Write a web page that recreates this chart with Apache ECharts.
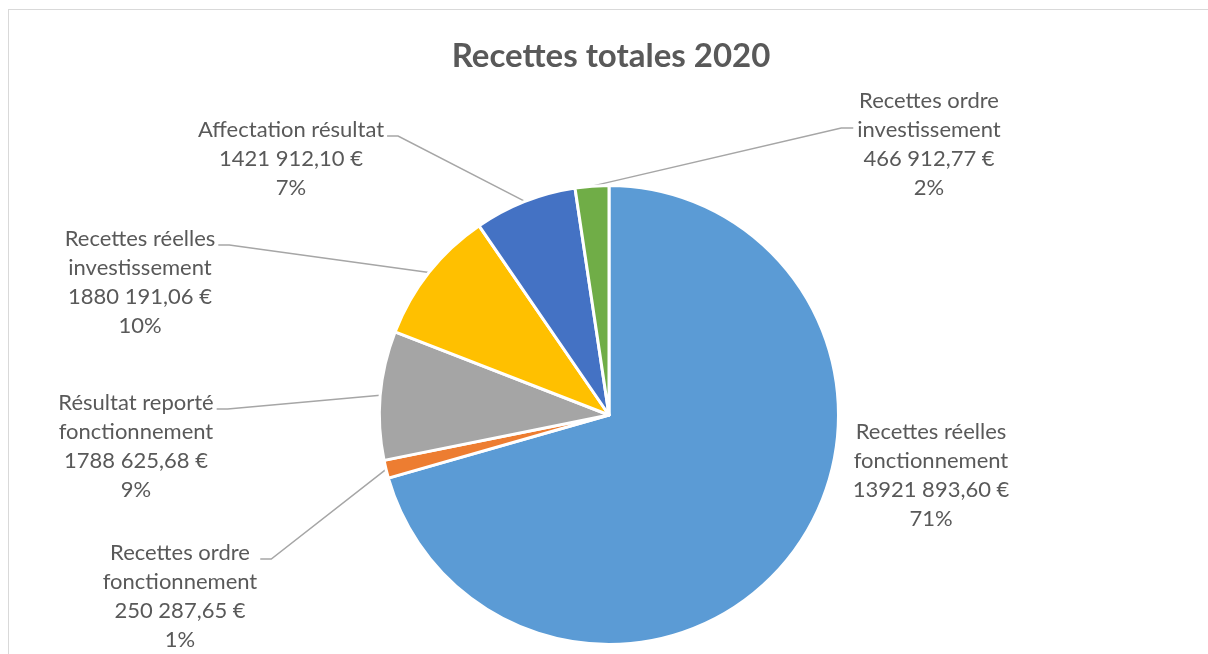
<!DOCTYPE html>
<html>
<head>
<meta charset="utf-8">
<script src="https://cdn.jsdelivr.net/npm/echarts@6/dist/echarts.min.js"></script>
<style>
html, body { margin: 0; padding: 0; background: #fff; overflow: hidden; }
#frame { position: absolute; left: 8px; top: 9px; width: 1400px; height: 900px; border: 1px solid #d9d9d9; pointer-events: none; }
#chart { position: absolute; left: 0; top: 0; width: 1208px; height: 654px; }
</style>
</head>
<body>
<div id="chart"></div>
<div id="frame"></div>
<script>
// ---- data ----
const titleText = 'Recettes totales 2020';
const categories = [
  'Recettes réelles\nfonctionnement',
  'Recettes ordre\nfonctionnement',
  'Résultat reporté\nfonctionnement',
  'Recettes réelles\ninvestissement',
  'Affectation résultat',
  'Recettes ordre\ninvestissement'
];
const values = [13921893.60, 250287.65, 1788625.68, 1880191.06, 1421912.10, 466912.77];
const colors = ['#5B9BD5', '#ED7D31', '#A5A5A5', '#FFC000', '#4472C4', '#70AD47'];

// ---- label placement (centre x, first-line y) ----
const labelAnchors = [[931, 432], [180, 553], [136, 403], [140, 239], [291, 130], [929, 101]];
const LINE_H = 29;
const FONT = 'Lato, "Open Sans", sans-serif';

function fmtEuro(v) {
  const s = v.toFixed(2).split('.');
  const n = parseInt(s[0], 10);
  const intStr = n >= 1000 ? Math.floor(n / 1000) + ' ' + String(n % 1000).padStart(3, '0') : String(n);
  return intStr + ',' + s[1] + ' €';
}

const chart = echarts.init(document.getElementById('chart'), null, { renderer: 'canvas' });

const seriesData = categories.map((c, i) => {
  const d = { name: c, value: values[i], itemStyle: { color: colors[i] } };
  if (i === 0) d.labelLine = { show: false };
  return d;
});

chart.setOption({
  animation: false,
  backgroundColor: 'transparent',
  title: {
    text: titleText,
    left: 606,
    top: 35,
    padding: 5,
    textAlign: 'center',
    textStyle: { fontFamily: FONT, fontSize: 33, fontWeight: 'bold', color: '#595959' }
  },
  series: [{
    type: 'pie',
    center: [609, 415],
    radius: 229.5,
    startAngle: 90,
    clockwise: true,
    avoidLabelOverlap: false,
    itemStyle: { borderColor: '#ffffff', borderWidth: 3 },
    label: {
      show: true,
      position: 'outside',
      fontFamily: FONT,
      fontSize: 22,
      lineHeight: LINE_H,
      color: '#595959',
      align: 'center',
      formatter: p => p.name + '\n' + fmtEuro(p.value) + '\n' + Math.round(p.percent) + '%'
    },
    labelLine: {
      show: true,
      length: 10,
      length2: 10,
      smooth: false,
      lineStyle: { color: '#A6A6A6', width: 1.5 }
    },
    labelLayout: function (params) {
      const i = params.dataIndex;
      const a = labelAnchors[i];
      const w = params.labelRect.width;
      const h = params.labelRect.height;
      const res = {
        x: a[0],
        y: a[1] - LINE_H / 2 + h / 2,
        align: 'center',
        verticalAlign: 'middle'
      };
      const pts = params.labelLinePoints;
      if (pts && pts.length) {
        const isLeft = a[0] < 609;
        const edgeX = isLeft ? a[0] + w / 2 + 3 : a[0] - w / 2 - 4;
        const attachY = a[1] + (i === 5 ? 27 : 6);
        const knee = [edgeX + (isLeft ? 11 : -12), attachY];
        res.labelLinePoints = [pts[0], knee, [edgeX, attachY]];
      }
      return res;
    },
    data: seriesData
  }]
});
</script>
</body>
</html>
